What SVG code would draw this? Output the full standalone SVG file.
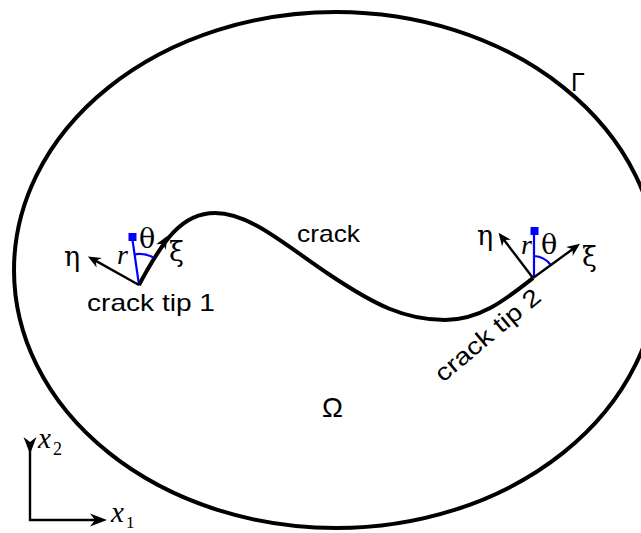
<svg xmlns="http://www.w3.org/2000/svg" width="641" height="533" viewBox="0 0 641 533">
<style>
.bd{fill:none;stroke:#000;stroke-width:4}
.ar{fill:none;stroke:#000;stroke-width:2.4}
.bl{fill:none;stroke:#0000ff;stroke-width:2.2}
.sq{fill:#0000ff}
.sans{font-family:"Liberation Sans","DejaVu Sans",sans-serif;font-size:24px;fill:#000}
.gr{font-family:"DejaVu Serif","Liberation Serif",serif;font-size:27px;fill:#000}
.it{font-family:"Liberation Serif","DejaVu Serif",serif;font-style:italic;fill:#000}
</style>
<defs>
<marker id="ah" viewBox="-14 -7 15 14" refX="-4" refY="0" markerWidth="15" markerHeight="14" markerUnits="userSpaceOnUse" orient="auto">
<path d="M0,0 L-13,-5.5 L-9,0 L-13,5.5 Z" fill="#000"/>
</marker>
<marker id="ahL" viewBox="-18 -8 19 16" refX="-5" refY="0" markerWidth="19" markerHeight="16" markerUnits="userSpaceOnUse" orient="auto">
<path d="M0,0 L-17,-6.5 L-12,0 L-17,6.5 Z" fill="#000"/>
</marker>
</defs>
<rect width="641" height="533" fill="#fff"/>
<g id="domain">
<ellipse class="bd" cx="336" cy="270" rx="322" ry="258"/>
<text class="sans" x="571" y="91" style="font-size:25px">Γ</text>
<text class="sans" x="332.5" y="417" text-anchor="middle" style="font-size:28px">Ω</text>
</g>
<g id="crack">
<path class="bd" d="M139,285 C163,240 182,213 215,213 C250,213 285,245 330,275 C375,305 405,320 445,320 C480,320 505,300 533,278"/>
<text class="sans" x="297" y="242" textLength="63" lengthAdjust="spacingAndGlyphs">crack</text>
</g>
<g id="tip1">
<path class="bl" d="M139,285 L132.5,240"/>
<rect class="sq" x="128.5" y="233" width="8" height="8"/>
<path class="bl" d="M134.5,254.3 A31,31 0 0 1 154.6,258.2"/>
<text class="gr" x="64" y="266">η</text>
<text class="it" x="117" y="264" style="font-size:28px">r</text>
<text class="gr" x="139" y="248">θ</text>
<text class="gr" x="169" y="261">ξ</text>
<text class="sans" x="87" y="311" textLength="128" lengthAdjust="spacingAndGlyphs">crack tip 1</text>
</g>
<g id="tip2">
<path class="bl" d="M534,278 L534,234"/>
<rect class="sq" x="530.5" y="227" width="8" height="8"/>
<path class="bl" d="M534,256 A22,22 0 0 1 550.8,265.1"/>
<text class="gr" x="477" y="245">η</text>
<text class="it" x="521" y="254" style="font-size:28px">r</text>
<text class="gr" x="541" y="254">θ</text>
<text class="gr" x="582" y="266">ξ</text>
<text class="sans" transform="translate(443,383) rotate(-40)" x="0" y="0" textLength="130" lengthAdjust="spacingAndGlyphs">crack tip 2</text>
</g>
<g id="axes">
<path class="ar" d="M30,449 L30,520 L102,520" stroke-linejoin="miter" marker-start="url(#ahL)" marker-end="url(#ahL)"/>
<text class="it" x="38" y="448" style="font-size:29px">x</text>
<text class="it" x="53" y="455" style="font-size:18px;font-style:normal">2</text>
<text class="it" x="111" y="522" style="font-size:29px">x</text>
<text class="it" x="126" y="528" style="font-size:17px;font-style:normal">1</text>
</g>
<g id="connectors">
<path class="ar" d="M139,285 L91.4,258.4" marker-end="url(#ah)"/>
<path class="ar" d="M139,285 L165.5,239.3" marker-end="url(#ah)"/>
<path class="ar" d="M533,278 L501,236" marker-end="url(#ah)"/>
<path class="ar" d="M533,278 L576.7,246.2" marker-end="url(#ah)"/>
</g>
</svg>
